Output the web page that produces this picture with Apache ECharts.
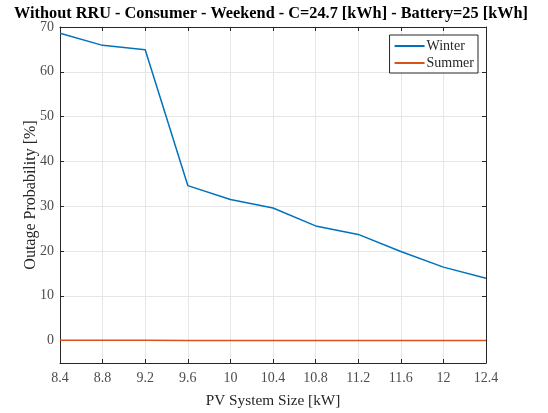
<!DOCTYPE html>
<html>
<head>
<meta charset="utf-8">
<script src="https://cdn.jsdelivr.net/npm/echarts@6/dist/echarts.min.js"></script>
<style>
  html, body { margin: 0; padding: 0; background: #fff; }
  #chart { width: 548px; height: 413px; }
</style>
</head>
<body>
<div id="chart"></div>
<script>
// PV system size [kW]
const pvSizes = [8.4, 8.8, 9.2, 9.6, 10, 10.4, 10.8, 11.2, 11.6, 12, 12.4]
// outage probability [%]
const winter = [68.6, 65.9, 64.9, 34.6, 31.5, 29.6, 25.6, 23.7, 19.9, 16.4, 13.9]
const summer = [0.1, 0.1, 0.1, 0.05, 0.02, 0.02, 0.02, 0.02, 0.02, 0.02, 0.02]
// y tick labels
const yTicks = [0, 10, 20, 30, 40, 50, 60, 70]

const font = '"Liberation Serif", "DejaVu Serif", serif'
const axisColor = '#262626'
const labelColor = '#4d4d4d'

const chart = echarts.init(document.getElementById('chart'))

const toPairs = (ys) => pvSizes.map((x, i) => [x, ys[i]])

const mirrorX = {
  type: 'value', position: 'top', min: 8.4, max: 12.4, interval: 0.4,
  axisLine: { show: true, onZero: false, lineStyle: { color: axisColor, width: 1 } },
  axisTick: { show: true, inside: true, length: 4, lineStyle: { color: axisColor } },
  axisLabel: { show: false },
  splitLine: { show: false }
}
const mirrorY = {
  type: 'value', position: 'right', min: -5, max: 70,
  axisLine: { show: true, onZero: false, lineStyle: { color: axisColor, width: 1 } },
  axisTick: { show: true, inside: true, length: 4, customValues: yTicks, lineStyle: { color: axisColor } },
  axisLabel: { show: false, customValues: yTicks },
  splitLine: { show: false }
}

const option = {
  animation: false,
  backgroundColor: '#fff',
  title: {
    text: 'Without RRU - Consumer - Weekend - C=24.7 [kWh] - Battery=25 [kWh]',
    left: 266,
    textAlign: 'center',
    top: 1,
    textStyle: { fontFamily: font, fontSize: 16.3, fontWeight: 'bold', color: '#000' }
  },
  legend: {
    right: 70,
    top: 35,
    orient: 'vertical',
    itemWidth: 30,
    itemHeight: 2,
    itemGap: 3,
    padding: [4, 4, 3, 5],
    borderColor: axisColor,
    borderWidth: 1,
    backgroundColor: '#fff',
    icon: 'rect',
    textStyle: { fontFamily: font, fontSize: 14, color: '#262626', padding: [0, 0, 0, -3] },
    data: ['Winter', 'Summer']
  },
  grid: { left: 60, right: 62, top: 27, bottom: 50 },
  xAxis: [
    {
      type: 'value',
      min: 8.4,
      max: 12.4,
      interval: 0.4,
      name: 'PV System Size [kW]',
      nameLocation: 'middle',
      nameGap: 30,
      nameTextStyle: { fontFamily: font, fontSize: 15.3, color: '#262626' },
      axisLine: { show: true, onZero: false, lineStyle: { color: axisColor, width: 1 } },
      axisTick: { show: true, inside: true, length: 4, lineStyle: { color: axisColor } },
      axisLabel: {
        fontFamily: font, fontSize: 14, color: labelColor, margin: 8,
        showMinLabel: true, showMaxLabel: true,
        formatter: (v) => String(Math.round(v * 10) / 10)
      },
      splitLine: { show: true, lineStyle: { color: '#e6e6e6' } }
    },
    mirrorX
  ],
  yAxis: [
    {
      type: 'value',
      min: -5,
      max: 70,
      name: 'Outage Probability [%]',
      nameLocation: 'middle',
      nameGap: 21,
      nameMoveOverlap: false,
      nameTextStyle: { fontFamily: font, fontSize: 16, color: '#262626' },
      axisLine: { show: true, onZero: false, lineStyle: { color: axisColor, width: 1 } },
      axisTick: { show: true, inside: true, length: 4, customValues: yTicks, lineStyle: { color: axisColor } },
      axisLabel: {
        fontFamily: font, fontSize: 14, color: labelColor, margin: 6,
        customValues: yTicks
      },
      splitLine: { show: true, lineStyle: { color: '#e6e6e6' } }
    },
    mirrorY
  ],
  series: [
    {
      name: 'Winter',
      type: 'line',
      data: toPairs(winter),
      symbol: 'none',
      lineStyle: { color: '#0072BD', width: 1.5 },
      itemStyle: { color: '#0072BD' }
    },
    {
      name: 'Summer',
      type: 'line',
      data: toPairs(summer),
      symbol: 'none',
      lineStyle: { color: '#D95319', width: 1.5 },
      itemStyle: { color: '#D95319' }
    }
  ]
}

chart.setOption(option)
</script>
</body>
</html>
